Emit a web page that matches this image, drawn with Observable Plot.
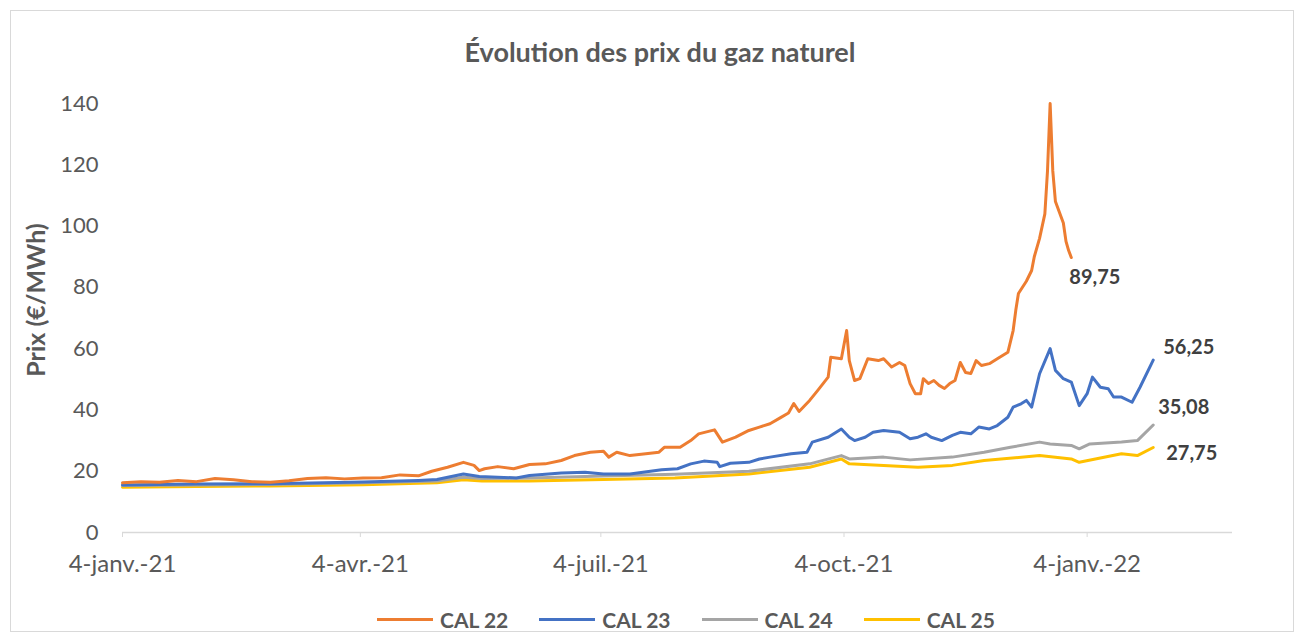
<!DOCTYPE html>
<html><head><meta charset="utf-8">
<script src="https://cdn.jsdelivr.net/npm/d3@7"></script>
<script src="https://cdn.jsdelivr.net/npm/@observablehq/plot@0.6"></script>
<style>
body{margin:0;background:#fff;font-family:Lato,"DejaVu Sans",sans-serif;}
#wrap{position:relative;width:1304px;height:642px;overflow:hidden;background:#fff;}
#frame{position:absolute;left:10px;top:10px;width:1282px;height:620px;border:1px solid #d9d9d9;}
#title{position:absolute;left:0;width:1320px;top:35px;text-align:center;font-weight:bold;font-size:27px;color:#595959;}
#ylab{position:absolute;left:-75px;top:285px;width:220px;height:30px;line-height:30px;text-align:center;transform:rotate(-90deg);font-weight:bold;font-size:25px;color:#595959;}
#chart{position:absolute;left:0;top:0;}
#legend{position:absolute;top:607px;left:0;width:1372px;display:flex;justify-content:center;gap:31px;font-weight:bold;font-size:21px;color:#595959;}
.item{display:flex;align-items:center;gap:7px;}
.sw{width:56px;height:3px;}
g[aria-label="x-axis tick"] path{stroke:#d9d9d9;}
g[aria-label="x-axis tick label"]{font-size:24px;}
</style></head>
<body><div id="wrap"><div id="frame"></div><div id="title"></div><div id="ylab"></div><div id="chart"></div><div id="legend"></div></div>
<script>
const titleText = "Évolution des prix du gaz naturel";
const yLabel = "Prix (€/MWh)";
const seriesNames = ["CAL 22","CAL 23","CAL 24","CAL 25"];
const seriesColors = ["#ED7D31","#4472C4","#A5A5A5","#FFC000"];
const endLabels = ["89,75","56,25","35,08","27,75"];
const xTickDates = ["2021-01-04","2021-04-04","2021-07-04","2021-10-04","2022-01-04"];
const xTickLabels = ["4-janv.-21","4-avr.-21","4-juil.-21","4-oct.-21","4-janv.-22"];
const yTicks = [0,20,40,60,80,100,120,140];

const cal22Dates = ["2021-01-04","2021-01-11","2021-01-18","2021-01-25","2021-02-01","2021-02-08","2021-02-15","2021-02-22","2021-03-01","2021-03-08","2021-03-15","2021-03-22","2021-03-29","2021-04-05","2021-04-12","2021-04-19","2021-04-26","2021-05-01","2021-05-07","2021-05-13","2021-05-17","2021-05-19","2021-05-21","2021-05-26","2021-06-01","2021-06-07","2021-06-13","2021-06-19","2021-06-24","2021-06-30","2021-07-05","2021-07-07","2021-07-10","2021-07-15","2021-07-21","2021-07-26","2021-07-28","2021-08-03","2021-08-07","2021-08-10","2021-08-16","2021-08-19","2021-08-24","2021-08-29","2021-09-02","2021-09-06","2021-09-10","2021-09-13","2021-09-15","2021-09-17","2021-09-21","2021-09-24","2021-09-28","2021-09-29","2021-10-03","2021-10-05","2021-10-06","2021-10-08","2021-10-10","2021-10-13","2021-10-17","2021-10-19","2021-10-22","2021-10-25","2021-10-27","2021-10-29","2021-10-31","2021-11-02","2021-11-03","2021-11-05","2021-11-07","2021-11-09","2021-11-11","2021-11-13","2021-11-15","2021-11-17","2021-11-19","2021-11-21","2021-11-23","2021-11-25","2021-11-28","2021-12-01","2021-12-05","2021-12-07","2021-12-08","2021-12-09","2021-12-12","2021-12-14","2021-12-15","2021-12-17","2021-12-19","2021-12-20","2021-12-21","2021-12-22","2021-12-23","2021-12-26","2021-12-27","2021-12-28","2021-12-29"];
const cal22Values = [16.2,16.6,16.4,17.0,16.6,17.6,17.2,16.6,16.4,16.9,17.6,17.9,17.5,17.8,17.9,18.8,18.5,20.0,21.3,22.9,21.9,20.2,20.8,21.5,20.8,22.2,22.4,23.5,25.1,26.2,26.5,24.6,26.2,25.1,25.7,26.2,27.8,27.8,30.0,32.2,33.5,29.5,31.1,33.3,34.4,35.5,37.5,39.0,42.1,39.5,43.1,46.3,50.7,57.2,56.7,65.9,56.1,49.6,50.2,56.7,56.1,56.7,54.0,55.5,54.5,48.6,45.3,45.3,50.2,48.6,49.6,48.0,47.0,48.6,49.6,55.5,52.2,51.9,56.1,54.5,55.1,56.7,58.8,65.9,72.5,78.0,82.0,85.5,90.0,96.0,104.0,118.0,140.0,118.0,108.0,101.0,95.0,92.0,89.75];

const cal23Dates = ["2021-01-04","2021-02-01","2021-03-01","2021-04-05","2021-04-26","2021-05-03","2021-05-13","2021-05-19","2021-06-02","2021-06-07","2021-06-19","2021-06-28","2021-07-05","2021-07-15","2021-07-27","2021-08-02","2021-08-07","2021-08-12","2021-08-17","2021-08-18","2021-08-22","2021-08-29","2021-09-02","2021-09-06","2021-09-14","2021-09-20","2021-09-22","2021-09-28","2021-10-03","2021-10-06","2021-10-08","2021-10-12","2021-10-15","2021-10-19","2021-10-25","2021-10-29","2021-11-01","2021-11-04","2021-11-06","2021-11-10","2021-11-14","2021-11-17","2021-11-21","2021-11-24","2021-11-28","2021-12-01","2021-12-05","2021-12-07","2021-12-10","2021-12-12","2021-12-14","2021-12-17","2021-12-21","2021-12-23","2021-12-26","2021-12-29","2022-01-01","2022-01-04","2022-01-06","2022-01-09","2022-01-12","2022-01-14","2022-01-17","2022-01-21","2022-01-24","2022-01-29"];
const cal23Values = [15.5,15.8,15.9,16.5,17.0,17.3,19.1,18.3,17.8,18.6,19.4,19.7,19.1,19.1,20.5,20.8,22.4,23.3,22.9,21.5,22.6,22.9,24.0,24.6,25.7,26.2,29.5,31.1,33.8,31.1,30.0,31.1,32.7,33.3,32.7,30.6,31.1,32.2,31.1,30.0,31.7,32.7,32.2,34.4,33.8,34.9,37.6,40.9,42.0,43.1,40.9,51.8,60.0,52.9,50.2,49.1,41.4,45.3,50.7,47.4,46.9,44.2,44.2,42.5,47.4,56.25];

const cal24Dates = ["2021-01-04","2021-02-01","2021-03-01","2021-04-05","2021-05-03","2021-05-13","2021-05-20","2021-06-07","2021-07-05","2021-08-01","2021-08-29","2021-09-21","2021-10-03","2021-10-06","2021-10-19","2021-10-29","2021-11-14","2021-11-26","2021-12-06","2021-12-17","2021-12-21","2021-12-29","2022-01-01","2022-01-05","2022-01-17","2022-01-23","2022-01-29"];
const cal24Values = [15.3,15.5,15.7,16.2,16.8,18.0,17.6,17.8,18.4,19.0,20.0,22.4,25.1,24.0,24.6,23.7,24.6,26.2,27.8,29.5,28.9,28.4,27.3,28.9,29.5,30.0,35.08];

const cal25Dates = ["2021-01-04","2021-02-01","2021-03-01","2021-04-05","2021-05-03","2021-05-13","2021-05-20","2021-06-07","2021-07-05","2021-08-01","2021-08-29","2021-09-21","2021-10-03","2021-10-06","2021-10-19","2021-11-01","2021-11-14","2021-11-26","2021-12-17","2021-12-29","2022-01-01","2022-01-17","2022-01-23","2022-01-29"];
const cal25Values = [14.8,15.0,15.2,15.6,16.2,17.2,16.8,16.8,17.3,17.8,19.1,21.3,24.0,22.4,21.9,21.3,21.9,23.5,25.1,24.0,22.9,25.7,25.1,27.75];

const allDates = [cal22Dates, cal23Dates, cal24Dates, cal25Dates];
const allValues = [cal22Values, cal23Values, cal24Values, cal25Values];

const rows = [];
seriesNames.forEach((s, k) => allDates[k].forEach((d, i) => rows.push({series: s, date: new Date(d), value: allValues[k][i]})));
const lastRows = seriesNames.map((s, k) => ({series: s, date: new Date(allDates[k][allDates[k].length - 1]), value: allValues[k][allValues[k].length - 1], label: endLabels[k]}));
const labelOffsets = {"CAL 22": [-2, 20], "CAL 23": [10, -13], "CAL 24": [5, -17], "CAL 25": [13, 6]};

const tickMap = new Map(xTickDates.map((d, i) => [+new Date(d), xTickLabels[i]]));

document.getElementById("title").textContent = titleText;
document.getElementById("ylab").textContent = yLabel;

const chart = Plot.plot({
  width: 1304, height: 585,
  marginLeft: 122, marginRight: 72, marginTop: 103, marginBottom: 53,
  style: {fontFamily: "Lato, sans-serif", fontSize: "22px", color: "#595959", background: "transparent", overflow: "visible"},
  x: {type: "utc", domain: [new Date("2021-01-04"), new Date("2022-02-28")], ticks: xTickDates.map(d => new Date(d)), tickFormat: d => tickMap.get(+d), tickSize: 5, tickPadding: 17, label: null},
  y: {domain: [0, 140], ticks: yTicks, tickSize: 0, tickPadding: 24, label: null},
  color: {domain: seriesNames, range: seriesColors},
  marks: [
    Plot.ruleY([0], {stroke: "#d9d9d9", strokeWidth: 1.3}),
    Plot.line(rows.filter(r => r.series === "CAL 25"), {x: "date", y: "value", stroke: "series", strokeWidth: 3}),
    Plot.line(rows.filter(r => r.series === "CAL 24"), {x: "date", y: "value", stroke: "series", strokeWidth: 3}),
    Plot.line(rows.filter(r => r.series === "CAL 23"), {x: "date", y: "value", stroke: "series", strokeWidth: 3}),
    Plot.line(rows.filter(r => r.series === "CAL 22"), {x: "date", y: "value", stroke: "series", strokeWidth: 3}),
    ...lastRows.map(r => Plot.text([r], {x: "date", y: "value", text: "label", textAnchor: "start", dx: labelOffsets[r.series][0], dy: labelOffsets[r.series][1], fill: "#404040", fontWeight: "bold", fontSize: 20}))
  ]
});
document.getElementById("chart").appendChild(chart);

const legend = document.getElementById("legend");
seriesNames.forEach((s, k) => {
  const it = document.createElement("div"); it.className = "item";
  const sw = document.createElement("div"); sw.className = "sw"; sw.style.background = seriesColors[k];
  const tx = document.createElement("span"); tx.textContent = s;
  it.appendChild(sw); it.appendChild(tx); legend.appendChild(it);
});
</script></body></html>
